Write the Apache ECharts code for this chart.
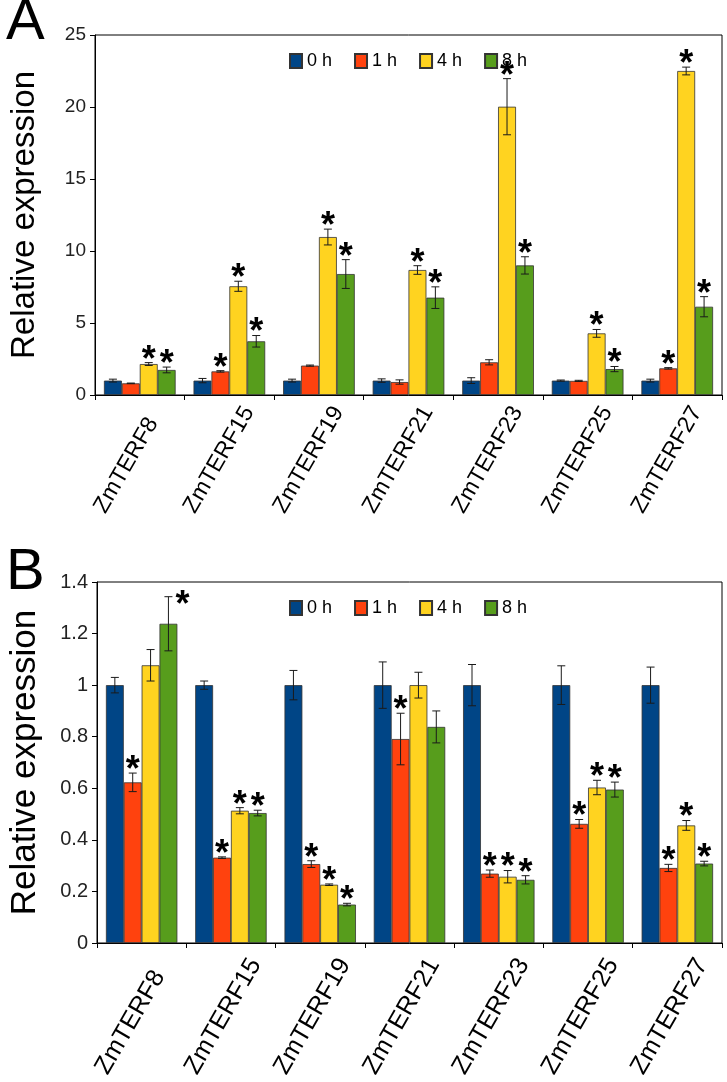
<!DOCTYPE html>
<html>
<head>
<meta charset="utf-8">
<script src="https://cdn.jsdelivr.net/npm/echarts@6/dist/echarts.min.js"></script>
<style>
html,body{margin:0;padding:0;background:#fff;}
#chart{width:727px;height:1082px;}
</style>
</head>
<body>
<div id="chart"></div>
<script>
// ---------- data ----------
const genes = ['ZmTERF8','ZmTERF15','ZmTERF19','ZmTERF21','ZmTERF23','ZmTERF25','ZmTERF27'];
const timeLabels = ['0 h','1 h','4 h','8 h'];

// Panel A
const A_0h     = [1.00, 1.00, 1.00, 1.00, 1.00, 1.00, 1.00];
const A_0h_err = [0.10, 0.15, 0.10, 0.12, 0.20, 0.04, 0.10];
const A_1h     = [0.81, 1.64, 2.04, 0.90, 2.27, 0.98, 1.85];
const A_1h_err = [0.02, 0.05, 0.04, 0.15, 0.18, 0.04, 0.05];
const A_4h     = [2.15, 7.55, 10.97, 8.68, 20.02, 4.28, 22.50];
const A_4h_err = [0.10, 0.35, 0.55, 0.30, 1.95, 0.27, 0.27];
const A_8h     = [1.74, 3.73, 8.40, 6.76, 9.00, 1.80, 6.13];
const A_8h_err = [0.20, 0.40, 1.00, 0.75, 0.60, 0.18, 0.70];
// star marks: 0 none, 1 above error bar, 2 beside error bar
const A_0h_star = [0,0,0,0,0,0,0];
const A_1h_star = [0,1,0,0,0,0,1];
const A_4h_star = [1,1,1,1,1,1,1];
const A_8h_star = [1,1,1,1,1,1,1];
const A_ticks = [0, 5, 10, 15, 20, 25];

// Panel B
const B_0h     = [1.00, 1.00, 1.00, 1.00, 1.00, 1.00, 1.00];
const B_0h_err = [0.030, 0.016, 0.057, 0.090, 0.080, 0.075, 0.070];
const B_1h     = [0.623, 0.331, 0.306, 0.791, 0.269, 0.462, 0.291];
const B_1h_err = [0.036, 0.003, 0.013, 0.100, 0.014, 0.017, 0.014];
const B_4h     = [1.077, 0.513, 0.226, 1.000, 0.257, 0.603, 0.456];
const B_4h_err = [0.061, 0.012, 0.003, 0.050, 0.024, 0.028, 0.019];
const B_8h     = [1.238, 0.504, 0.149, 0.838, 0.245, 0.595, 0.308];
const B_8h_err = [0.105, 0.011, 0.005, 0.062, 0.016, 0.029, 0.009];
const B_0h_star = [0,0,0,0,0,0,0];
const B_1h_star = [1,1,1,1,1,1,1];
const B_4h_star = [0,1,1,0,1,1,1];
const B_8h_star = [2,1,1,0,1,1,1];
const B_ticks = [0, 0.2, 0.4, 0.6, 0.8, 1.0, 1.2, 1.4];

const colors = ['#004586', '#ff420e', '#ffd320', '#579d1c'];

// ---------- chart ----------
const chart = echarts.init(document.getElementById('chart'), null, {renderer: 'canvas'});
const FONT = 'Liberation Sans, Arial, sans-serif';

const panels = [
  {means: [A_0h, A_1h, A_4h, A_8h], errs: [A_0h_err, A_1h_err, A_4h_err, A_8h_err],
   stars: [A_0h_star, A_1h_star, A_4h_star, A_8h_star], ticks: A_ticks},
  {means: [B_0h, B_1h, B_4h, B_8h], errs: [B_0h_err, B_1h_err, B_4h_err, B_8h_err],
   stars: [B_0h_star, B_1h_star, B_4h_star, B_8h_star], ticks: B_ticks}
];

const grids = [
  {left: 92, top: 35, width: 630, height: 360},
  {left: 92, top: 582, width: 630, height: 361}
];
const styleByPanel = [
  {catFont: 23, catMargin: 47, nameFont: 33, tickFont: 19},
  {catFont: 25, catMargin: 60, nameFont: 35, tickFont: 20}
];

function makeErrRender(idx) {
  return function (params, api) {
    const cat = api.value(0), mean = api.value(1), err = api.value(2), star = api.value(3);
    const band = api.size([1, 0])[0];
    const group = band * 0.8;
    const bw = group / 4;
    const base = api.coord([cat, mean]);
    const x = base[0] - group / 2 + (idx + 0.5) * bw;
    const yTop = api.coord([cat, mean + err])[1];
    const yBot = api.coord([cat, mean - err])[1];
    const cap = 4;
    const ls = {stroke: '#1a1a1a', lineWidth: 1};
    const children = [
      {type: 'line', shape: {x1: x, y1: yTop, x2: x, y2: yBot}, style: ls},
      {type: 'line', shape: {x1: x - cap, y1: yTop, x2: x + cap, y2: yTop}, style: ls},
      {type: 'line', shape: {x1: x - cap, y1: yBot, x2: x + cap, y2: yBot}, style: ls}
    ];
    const sf = 'bold 36px ' + FONT;
    if (star === 1) {
      children.push({type: 'text', style: {text: '*', x: x, y: yTop - 2, align: 'center', verticalAlign: 'middle',
        font: sf, fill: '#000'}});
    } else if (star === 2) {
      children.push({type: 'text', style: {text: '*', x: x + 14, y: yTop + 9, align: 'center', verticalAlign: 'middle',
        font: sf, fill: '#000'}});
    }
    return {type: 'group', children: children};
  };
}

const xAxes = [], yAxes = [], series = [], legends = [];
panels.forEach((p, pi) => {
  const st = styleByPanel[pi];
  xAxes.push({
    type: 'category', gridIndex: pi, data: genes,
    axisLine: {show: true, lineStyle: {color: '#000', width: 1}},
    axisTick: {show: true, length: 5, alignWithLabel: false, lineStyle: {color: '#000'}},
    axisLabel: {
      interval: 0, rotate: 60, align: 'right', margin: st.catMargin,
      formatter: v => '{n|' + v + '}',
      rich: {n: {width: 80, align: 'left', fontSize: st.catFont, fontFamily: FONT, color: '#000'}}
    },
    splitLine: {show: false}
  });
  const t = p.ticks;
  yAxes.push({
    type: 'value', gridIndex: pi, min: t[0], max: t[t.length - 1], interval: t[1] - t[0],
    name: 'Relative expression', nameLocation: 'middle', nameGap: 54,
    nameTextStyle: {fontSize: st.nameFont, fontFamily: FONT, color: '#000'},
    axisLine: {show: true, lineStyle: {color: '#000', width: 1}},
    axisTick: {show: true, length: 5, lineStyle: {color: '#000'}},
    axisLabel: {fontSize: st.tickFont, fontFamily: FONT, color: '#222', margin: 9},
    splitLine: {show: false}
  });
  p.means.forEach((m, si) => {
    series.push({
      type: 'bar', name: timeLabels[si], xAxisIndex: pi, yAxisIndex: pi,
      data: m, barGap: 0, barCategoryGap: '20%',
      itemStyle: {color: colors[si], borderColor: '#333', borderWidth: 0.8},
      emphasis: {disabled: true}
    });
  });
  p.means.forEach((m, si) => {
    series.push({
      type: 'custom', name: 'err' + pi + '_' + si, xAxisIndex: pi, yAxisIndex: pi,
      renderItem: makeErrRender(si),
      encode: {x: 0, y: 1},
      data: m.map((v, ci) => [ci, v, p.errs[si][ci], p.stars[si][ci]]),
      z: 5, silent: true
    });
  });
  legends.push({
    data: timeLabels, left: 284, top: grids[pi].top + 12, orient: 'horizontal',
    itemWidth: 12, itemHeight: 14, itemGap: 22, icon: 'rect',
    textStyle: {fontSize: 18, fontFamily: FONT, color: '#000'},
    selectedMode: false
  });
});

chart.setOption({
  animation: false,
  backgroundColor: '#fff',
  grid: grids.map(g => Object.assign({show: true, borderColor: '#000', borderWidth: 1, backgroundColor: 'transparent', containLabel: false}, g)),
  xAxis: xAxes,
  yAxis: yAxes,
  legend: legends,
  series: series,
  graphic: [
    {type: 'text', left: 6, top: -6, style: {text: 'A', font: '58px ' + FONT, fill: '#000'}},
    {type: 'text', left: 6, top: 544, style: {text: 'B', font: '58px ' + FONT, fill: '#000'}}
  ]
});
</script>
</body>
</html>
